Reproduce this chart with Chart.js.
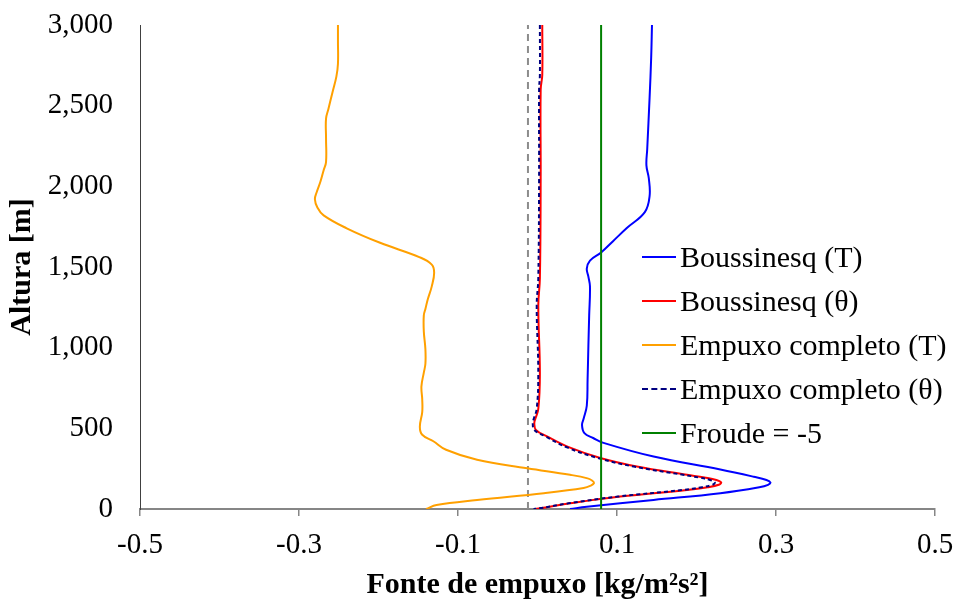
<!DOCTYPE html>
<html lang="pt-BR">
<head>
<meta charset="utf-8">
<title>Fonte de empuxo</title>
<script src="https://cdn.jsdelivr.net/npm/chart.js@4.4.1/dist/chart.umd.min.js"></script>
<style>
  html, body { margin: 0; padding: 0; background: #fff; }
  #wrap { position: relative; width: 955px; height: 604px; }
  #legenda { position: absolute; left: 642px; top: 235px; }
</style>
</head>
<body>
<div id="wrap">
  <canvas id="grafico" width="955" height="604"></canvas>
  <div id="legenda"></div>
</div>
<script>
// Perfis verticais: altura [m] x fonte de empuxo [kg/m²s²]
const orangeHeights = [3000, 2900, 2760, 2680, 2580, 2480, 2420, 2300, 2150, 2100, 2030, 1960, 1920, 1870, 1820, 1740, 1650, 1560, 1515, 1465, 1380, 1300, 1240, 1200, 1100, 990, 900, 845, 760, 680, 600, 510, 460, 420, 367, 305, 253, 212, 190, 175, 160, 145, 130, 98, 56, 25, 0];
const orangeValues = [-0.251, -0.251, -0.251, -0.253, -0.258, -0.263, -0.266, -0.266, -0.266, -0.269, -0.273, -0.278, -0.280, -0.277, -0.269, -0.240, -0.198, -0.148, -0.133, -0.130, -0.133, -0.138, -0.141, -0.143, -0.143, -0.141, -0.141, -0.143, -0.146, -0.145, -0.145, -0.148, -0.145, -0.131, -0.115, -0.076, -0.013, 0.041, 0.063, 0.069, 0.071, 0.067, 0.058, 0.008, -0.076, -0.127, -0.140];

const blueHeights = [3000, 2800, 2550, 2230, 2130, 2050, 1940, 1840, 1740, 1660, 1590, 1540, 1490, 1440, 1380, 1200, 1010, 800, 640, 560, 520, 470, 440, 410, 325, 245, 200, 180, 164, 150, 135, 98, 56, 14, 0];
const blueValues = [0.144, 0.143, 0.141, 0.138, 0.137, 0.140, 0.141, 0.135, 0.112, 0.095, 0.080, 0.066, 0.062, 0.064, 0.066, 0.065, 0.064, 0.063, 0.062, 0.058, 0.056, 0.059, 0.070, 0.083, 0.146, 0.230, 0.272, 0.288, 0.293, 0.290, 0.279, 0.230, 0.146, 0.062, 0.041];

const thetaHeights = [3000, 2690, 2600, 2050, 1430, 1260, 840, 620, 555, 530, 490, 450, 380, 316, 263, 212, 195, 180, 164, 150, 135, 118, 77, 35, 4, 0];
const redValues = [0.006, 0.006, 0.004, 0.004, 0.003, 0.001, 0.003, 0.001, -0.003, -0.004, -0.002, 0.012, 0.041, 0.079, 0.125, 0.188, 0.210, 0.225, 0.231, 0.228, 0.214, 0.188, 0.104, 0.041, 0.003, -0.003];
const navyValues = [0.003, 0.003, 0.002, 0.002, 0.001, -0.001, 0.001, -0.001, -0.005, -0.006, -0.004, 0.010, 0.038, 0.076, 0.121, 0.183, 0.203, 0.217, 0.223, 0.220, 0.207, 0.183, 0.101, 0.039, 0.002, -0.005];

// Linhas verticais de referência
const refHeights = [0, 3000];
const froudeValue = 0.08;
const zeroRefValue = -0.012;

const xTicks = { min: -0.5, max: 0.5, step: 0.2 };
const yTicks = { min: 0, max: 3000, step: 500 };

const FONT = "'Liberation Serif', 'Times New Roman', serif";

function toPoints(heights, values) {
  return heights.map((h, i) => ({ x: values[i], y: h }));
}

const series = [
  { label: 'Boussinesq (T)', color: '#0000ff', data: toPoints(blueHeights, blueValues), order: 3 },
  { label: 'Boussinesq (θ)', color: '#ff0000', data: toPoints(thetaHeights, redValues), order: 2 },
  { label: 'Empuxo completo (T)', color: '#ffa000', data: toPoints(orangeHeights, orangeValues), order: 4 },
  { label: 'Empuxo completo (θ)', color: '#000080', data: toPoints(thetaHeights, navyValues), order: 1, dash: [4, 3] },
  { label: 'Froude = -5', color: '#008000', data: refHeights.map((h) => ({ x: froudeValue, y: h })), order: 0, tension: 0 },
];

/**
 * Legenda em HTML sobre a área do gráfico
 */
function createLegend(legendId, items) {
  const box = document.getElementById(legendId);
  items.forEach((item) => {
    const row = document.createElement('div');
    row.style.display = 'flex';
    row.style.alignItems = 'center';
    row.style.height = '44px';

    const line = document.createElement('span');
    line.style.display = 'inline-block';
    line.style.width = '34px';
    line.style.height = '0';
    line.style.borderTop = `2px ${item.dash ? 'dashed' : 'solid'} ${item.color}`;
    line.style.marginRight = '4px';

    const text = document.createElement('span');
    text.textContent = item.label;
    text.style.font = `30px ${FONT}`;
    text.style.color = '#000';
    text.style.whiteSpace = 'pre';

    row.appendChild(line);
    row.appendChild(text);
    box.appendChild(row);
  });
}

createLegend('legenda', series);

const datasets = series.map((s) => ({
  label: s.label,
  data: s.data,
  borderColor: s.color,
  borderWidth: 2,
  borderDash: s.dash || [],
  pointRadius: 0,
  showLine: true,
  tension: s.tension !== undefined ? s.tension : 0.4,
  order: s.order,
}));

// linha tracejada cinza (sem legenda)
datasets.push({
  label: '',
  data: refHeights.map((h) => ({ x: zeroRefValue, y: h })),
  borderColor: '#8c8c8c',
  borderWidth: 2,
  borderDash: [7, 5],
  pointRadius: 0,
  showLine: true,
  order: 5,
});

new Chart(document.getElementById('grafico').getContext('2d'), {
  type: 'scatter',
  data: { datasets },
  options: {
    responsive: false,
    animation: false,
    layout: { padding: { top: 25, right: 20, bottom: 0, left: 0 } },
    plugins: {
      legend: { display: false },
      tooltip: { enabled: false },
    },
    scales: {
      x: {
        type: 'linear',
        min: xTicks.min,
        max: xTicks.max,
        ticks: {
          stepSize: xTicks.step,
          color: '#000',
          // a altura de linha maior afasta os rótulos do eixo sem mexer no padding lateral
          font: { family: FONT, size: 29, lineHeight: 2.0 },
          padding: 0,
          callback: (v) => Number(v).toFixed(1),
        },
        grid: { drawOnChartArea: false, drawTicks: true, tickLength: 7, color: '#868686', lineWidth: 1.5 },
        border: { color: '#868686', width: 2 },
        title: {
          display: true,
          text: 'Fonte de empuxo [kg/m²s²]',
          color: '#000',
          font: { family: FONT, size: 30, weight: 'bold' },
          padding: { top: 0, bottom: 1 },
        },
        afterFit: (scale) => { scale.height = 95; },
      },
      y: {
        type: 'linear',
        min: yTicks.min,
        max: yTicks.max,
        ticks: {
          stepSize: yTicks.step,
          color: '#000',
          font: { family: FONT, size: 29 },
          padding: 0,
          callback: (v) => Number(v).toLocaleString('en-US'),
        },
        // marcas invisíveis: só afastam os rótulos do eixo
        grid: { display: false, drawTicks: true, tickLength: 27 },
        border: { color: '#404040', width: 1 },
        title: {
          display: true,
          text: 'Altura [m]',
          color: '#000',
          font: { family: FONT, size: 30, weight: 'bold' },
          padding: { top: 4, bottom: 0 },
        },
        afterFit: (scale) => { scale.width = 140; },
      },
    },
  },
});
</script>
</body>
</html>
